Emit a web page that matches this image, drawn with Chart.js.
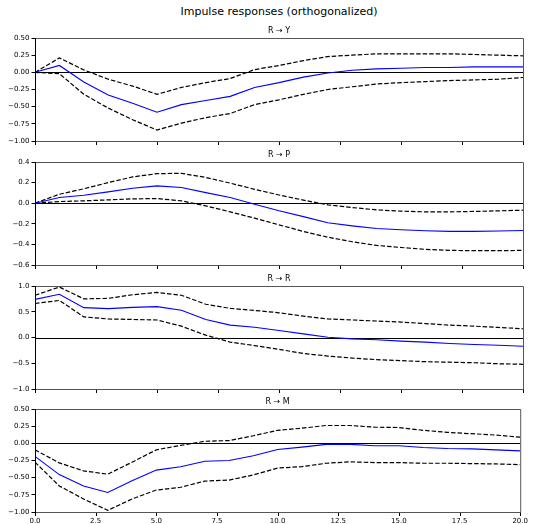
<!DOCTYPE html>
<html>
<head>
<meta charset="utf-8">
<script src="https://cdn.jsdelivr.net/npm/chart.js@4.4.0/dist/chart.umd.min.js"></script>
<style>
  html, body { margin: 0; padding: 0; background: #fff; }
  body { width: 533px; height: 524px; position: relative; overflow: hidden; font-family: "DejaVu Sans", sans-serif; }
  #title { position: absolute; left: 0; width: 558px; top: 5px; text-align: center; font-size: 11px; color: #000; font-family: "DejaVu Sans", sans-serif; }
  canvas { position: absolute; left: 0; }
</style>
</head>
<body>
<div id="title">Impulse responses (orthogonalized)</div>
<canvas id="c0"></canvas>
<canvas id="c1"></canvas>
<canvas id="c2"></canvas>
<canvas id="c3"></canvas>
<script>
// ---- data ----
const horizons = [0,1,2,3,4,5,6,7,8,9,10,11,12,13,14,15,16,17,18,19,20];
const panelTitles = ["R \u2192 Y", "R \u2192 P", "R \u2192 R", "R \u2192 M"];

const irfY   = [0, 0.10, -0.14, -0.33, -0.45, -0.58, -0.47, -0.41, -0.35, -0.22, -0.15, -0.07, -0.01, 0.03, 0.05, 0.06, 0.07, 0.07, 0.08, 0.08, 0.08];
const upperY = [0, 0.21, 0.035, -0.10, -0.20, -0.32, -0.22, -0.15, -0.09, 0.04, 0.10, 0.17, 0.23, 0.25, 0.27, 0.27, 0.27, 0.27, 0.26, 0.25, 0.24];
const lowerY = [0, -0.02, -0.32, -0.52, -0.69, -0.84, -0.74, -0.66, -0.60, -0.47, -0.40, -0.32, -0.25, -0.21, -0.17, -0.15, -0.135, -0.12, -0.11, -0.10, -0.075];

const irfP   = [0, 0.055, 0.077, 0.11, 0.145, 0.168, 0.152, 0.103, 0.055, -0.01, -0.074, -0.13, -0.19, -0.22, -0.245, -0.258, -0.268, -0.274, -0.274, -0.27, -0.265];
const upperP = [0, 0.087, 0.14, 0.20, 0.255, 0.287, 0.29, 0.25, 0.195, 0.135, 0.08, 0.03, -0.016, -0.042, -0.065, -0.077, -0.084, -0.084, -0.08, -0.074, -0.068];
const lowerP = [0, 0.016, 0.023, 0.032, 0.042, 0.045, 0.023, -0.026, -0.084, -0.145, -0.21, -0.274, -0.33, -0.374, -0.41, -0.43, -0.448, -0.458, -0.461, -0.461, -0.458];

const irfR   = [0.74, 0.84, 0.58, 0.56, 0.585, 0.60, 0.53, 0.35, 0.24, 0.20, 0.136, 0.07, 0.006, -0.026, -0.045, -0.07, -0.09, -0.117, -0.136, -0.15, -0.17];
const upperR = [0.82, 0.98, 0.75, 0.76, 0.83, 0.875, 0.82, 0.645, 0.565, 0.526, 0.48, 0.415, 0.36, 0.34, 0.32, 0.30, 0.27, 0.24, 0.22, 0.195, 0.17];
const lowerR = [0.66, 0.72, 0.40, 0.36, 0.35, 0.34, 0.22, 0.045, -0.09, -0.156, -0.23, -0.31, -0.36, -0.40, -0.43, -0.45, -0.47, -0.48, -0.49, -0.51, -0.52];

const irfM   = [-0.19, -0.455, -0.62, -0.715, -0.545, -0.39, -0.34, -0.26, -0.25, -0.18, -0.09, -0.055, -0.015, -0.015, -0.035, -0.035, -0.06, -0.075, -0.08, -0.095, -0.11];
const upperM = [-0.095, -0.285, -0.40, -0.45, -0.275, -0.095, -0.03, 0.03, 0.04, 0.11, 0.19, 0.22, 0.26, 0.26, 0.235, 0.23, 0.19, 0.16, 0.14, 0.12, 0.09];
const lowerM = [-0.275, -0.62, -0.81, -0.975, -0.81, -0.68, -0.64, -0.55, -0.535, -0.46, -0.36, -0.34, -0.29, -0.27, -0.28, -0.28, -0.29, -0.29, -0.295, -0.30, -0.31];

const yMins  = [-1.0, -0.6, -1.0, -1.0];
const yMaxs  = [0.5, 0.4, 1.0, 0.5];
const ySteps = [0.25, 0.2, 0.5, 0.25];
const yDecimals = [2, 1, 1, 2];
const xTickStep = 2.5;

const panels = [
  {irf: irfY, up: upperY, lo: lowerY},
  {irf: irfP, up: upperP, lo: lowerP},
  {irf: irfR, up: upperR, lo: lowerR},
  {irf: irfM, up: upperM, lo: lowerM}
];

// ---- layout ----
const panelTops = [38, 162, 286, 409];
const PANEL_H = 103;
const TOP_PAD = 24;
const X_AXIS_H = 14;
const W = 533;
const LEFT_W = 35;
const RIGHT_PAD = 10;

function fmt(v, d) {
  const s = Math.abs(v) < 1e-9 ? (0).toFixed(d) : v.toFixed(d);
  return s.replace('-', '\u2212');
}

const framePlugin = {
  id: 'frame',
  beforeDatasetsDraw(chart) {
    const {ctx, chartArea: a, scales} = chart;
    const y0 = Math.round(scales.y.getPixelForValue(0)) + 0.5;
    ctx.save();
    ctx.strokeStyle = '#000';
    ctx.lineWidth = 1;
    ctx.beginPath();
    ctx.moveTo(a.left, y0);
    ctx.lineTo(a.right, y0);
    ctx.stroke();
    ctx.restore();
  },
  afterDraw(chart) {
    const {ctx, chartArea: a, scales} = chart;
    ctx.save();
    // bottom x tick marks (for every panel)
    ctx.strokeStyle = '#000';
    ctx.lineWidth = 1;
    ctx.beginPath();
    scales.x.ticks.forEach(t => {
      const x = Math.round(scales.x.getPixelForValue(t.value)) + 0.5;
      ctx.moveTo(x, a.bottom);
      ctx.lineTo(x, a.bottom + 4);
    });
    ctx.stroke();
    // frame
    ctx.strokeStyle = '#555';
    ctx.beginPath();
    ctx.moveTo(a.left, a.top + 0.5);
    ctx.lineTo(a.right + 0.5, a.top + 0.5);
    ctx.lineTo(a.right + 0.5, a.bottom + 0.5);
    ctx.lineTo(a.left, a.bottom + 0.5);
    ctx.stroke();
    ctx.strokeStyle = '#000';
    ctx.beginPath();
    ctx.moveTo(a.left + 0.5, a.top);
    ctx.lineTo(a.left + 0.5, a.bottom + 1);
    ctx.stroke();
    // subplot title
    ctx.fillStyle = '#000';
    ctx.font = '8px "DejaVu Sans"';
    ctx.textAlign = 'center';
    ctx.textBaseline = 'alphabetic';
    ctx.fillText(chart.options.plugins.frame.text, (a.left + a.right) / 2, a.top - 5);
    ctx.restore();
  }
};

panels.forEach((p, i) => {
  const cv = document.getElementById('c' + i);
  const H = TOP_PAD + PANEL_H + X_AXIS_H;
  cv.width = W; cv.height = H;
  cv.style.width = W + 'px'; cv.style.height = H + 'px';
  cv.style.top = (panelTops[i] - TOP_PAD) + 'px';
  const isBottom = i === panels.length - 1;
  const mk = (data, color, dash) => ({
    data: horizons.map((h, k) => ({x: h, y: data[k]})),
    borderColor: color,
    borderWidth: dash ? 1.2 : 1.1,
    borderDash: dash ? [4.5, 2] : [],
    pointRadius: 0,
    fill: false,
    tension: 0
  });
  new Chart(cv, {
    type: 'line',
    data: {
      datasets: [
        mk(p.irf, '#0000ff', false),
        mk(p.up, '#000000', true),
        mk(p.lo, '#000000', true)
      ]
    },
    options: {
      responsive: false,
      animation: false,
      devicePixelRatio: 1,
      layout: { padding: { left: 0, right: RIGHT_PAD, top: TOP_PAD, bottom: 0 } },
      plugins: {
        legend: { display: false },
        tooltip: { enabled: false },
        title: { display: false },
        frame: { text: panelTitles[i] }
      },
      scales: {
        x: {
          type: 'linear',
          min: 0, max: 20,
          afterBuildTicks(scale) {
            const t = [];
            for (let v = 0; v <= 20 + 1e-9; v += xTickStep) t.push({value: v});
            scale.ticks = t;
          },
          afterFit(scale) { scale.height = X_AXIS_H; },
          grid: { display: false, drawTicks: false, tickLength: 0 },
          border: { display: false },
          ticks: {
            display: isBottom,
            padding: 5,
            maxRotation: 0,
            autoSkip: false,
            color: '#000',
            font: { family: 'DejaVu Sans', size: 7 },
            callback: (v) => fmt(v, 1)
          }
        },
        y: {
          type: 'linear',
          min: yMins[i], max: yMaxs[i],
          afterBuildTicks(scale) {
            const t = [];
            const n = Math.round((yMaxs[i] - yMins[i]) / ySteps[i]);
            for (let k = 0; k <= n; k++) t.push({value: yMins[i] + k * ySteps[i]});
            scale.ticks = t;
          },
          afterFit(scale) { scale.width = LEFT_W; },
          grid: { drawOnChartArea: false, drawTicks: true, tickLength: 3.5, color: '#000', lineWidth: 1 },
          border: { display: false },
          ticks: {
            padding: 2,
            autoSkip: false,
            color: '#000',
            font: { family: 'DejaVu Sans', size: 7 },
            callback: (v) => fmt(v, yDecimals[i])
          }
        }
      }
    },
    plugins: [framePlugin]
  });
});
</script>
</body>
</html>
